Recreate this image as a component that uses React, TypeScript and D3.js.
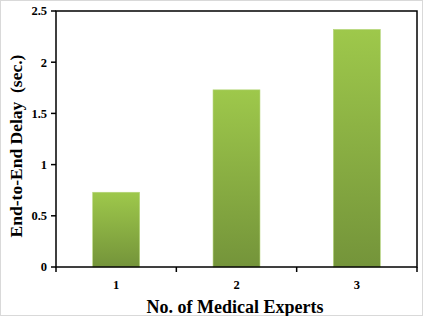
import React from "react";
import * as d3 from "d3";

const categories = ["1", "2", "3"];
const values = [0.73, 1.73, 2.32];
const yTicks = [0, 0.5, 1, 1.5, 2, 2.5];
const yTickLabels = ["0", "0.5", "1", "1.5", "2", "2.5"];
const xTitle = "No. of Medical Experts";
const yTitle = "End-to-End Delay  (sec.)";

export default function App() {
  const W = 423, H = 316;
  const left = 56, right = 417, top = 11, bottom = 267;
  const x = d3.scaleBand<string>().domain(categories).range([left, right]).paddingInner(0.61).paddingOuter(0.305);
  const y = d3.scaleLinear().domain([0, 2.5]).range([bottom, top]);
  const font = "'Liberation Serif', 'Times New Roman', serif";
  const step = (right - left) / categories.length;
  return (
    <svg width={W} height={H} style={{ position: "absolute", left: 0, top: 0, background: "#fff" }}>
      <defs>
        <linearGradient id="barGrad" x1="0" y1="0" x2="0" y2="1">
          <stop offset="0%" stopColor="#9ec84b" />
          <stop offset="100%" stopColor="#74943a" />
        </linearGradient>
      </defs>
      <rect x={0.5} y={0.5} width={W - 1} height={H - 1} fill="#fff" stroke="#d9d9d9" />
      {categories.map((c, i) => (
        <rect key={c} x={x(c)} y={y(values[i])} width={x.bandwidth()} height={bottom - y(values[i])}
          fill="url(#barGrad)" stroke="#b5d67a" strokeWidth={0.6} />
      ))}
      <rect x={left} y={top} width={right - left} height={bottom - top} fill="none" stroke="#000" strokeWidth={1.5} />
      {yTicks.map((t, i) => (
        <g key={t}>
          <line x1={left - 5} x2={left} y1={y(t)} y2={y(t)} stroke="#000" strokeWidth={1.5} />
          <text x={left - 9} y={y(t)} dy="0.35em" textAnchor="end" fontFamily={font} fontWeight="bold" fontSize={12.5}>{yTickLabels[i]}</text>
        </g>
      ))}
      {d3.range(categories.length + 1).map((i) => (
        <line key={i} x1={left + i * step} x2={left + i * step} y1={bottom} y2={bottom + 5} stroke="#000" strokeWidth={1.5} />
      ))}
      {categories.map((c) => (
        <text key={c} x={(x(c) as number) + x.bandwidth() / 2} y={289} textAnchor="middle" fontFamily={font} fontWeight="bold" fontSize={12.5}>{c}</text>
      ))}
      <text x={235} y={313} textAnchor="middle" fontFamily={font} fontWeight="bold" fontSize={18} style={{ whiteSpace: "pre" }}>{xTitle}</text>
      <text transform={`translate(22,146) rotate(-90)`} textAnchor="middle" fontFamily={font} fontWeight="bold" fontSize={17.5} style={{ whiteSpace: "pre" }}>{yTitle}</text>
    </svg>
  );
}
